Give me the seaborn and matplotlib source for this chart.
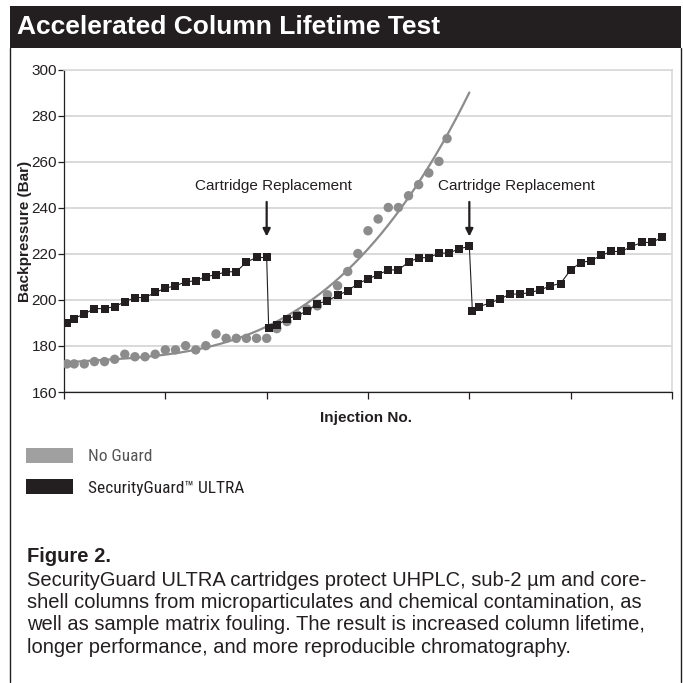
import numpy as np
import pandas as pd
import matplotlib
matplotlib.use("Agg")
import matplotlib.pyplot as plt
from matplotlib.patches import Rectangle, Patch
from matplotlib.lines import Line2D
from matplotlib import font_manager
import seaborn as sns

# ---------------- data ----------------
guard_x = [0.3, 1, 2, 3, 4, 5, 6, 7, 8, 9, 10, 11, 12, 13, 14, 15, 16, 17, 18, 19, 20,
           20.2, 21, 22, 23, 24, 25, 26, 27, 28, 29, 30, 31, 32, 33, 34, 35, 36, 37, 38, 39, 40,
           40.3, 41, 42, 43, 44, 45, 46, 47, 48, 49, 50, 51, 52, 53, 54, 55, 56, 57, 58, 59]
guard_y = [190.1, 191.9, 193.9, 196.2, 196.2, 197.1, 199.1, 201.0, 201.0, 203.2, 205.1,
           206.1, 207.8, 208.3, 210.1, 210.9, 212.2, 212.2, 216.4, 218.4, 218.4,
           187.7, 189.0, 191.7, 193.2, 195.2, 198.3, 199.6, 201.9, 204.0, 207.0, 209.1,
           210.9, 213.0, 213.0, 216.4, 218.3, 218.3, 220.3, 220.3, 222.2, 223.2,
           195.2, 197.1, 198.6, 200.3, 202.5, 202.5, 203.2, 204.3, 206.1, 207.1, 213.0,
           216.2, 217.0, 219.3, 221.0, 221.0, 223.2, 224.9, 224.9, 227.1]

noguard_x = [0.3, 1, 2, 3, 4, 5, 6, 7, 8, 9, 10, 11, 12, 13, 14, 15, 16, 17, 18, 19, 20,
             21, 22, 23, 24, 25, 26, 27, 28, 29, 30, 31, 32, 33, 34, 35, 36, 37, 37.8]
noguard_y = [172.2, 172.2, 172.2, 173.2, 173.2, 174.2, 176.4, 175.3, 175.3, 176.4, 178.3,
             178.3, 180.1, 178.3, 180.1, 185.2, 183.3, 183.3, 183.3, 183.3, 183.3,
             187.5, 190.6, 193.5, 196.0, 197.4, 202.2, 206.1, 212.3, 220.1, 230.0,
             235.1, 240.1, 240.1, 245.2, 250.0, 255.1, 260.1, 270.0]

series_names = ["No Guard", "SecurityGuard\u2122 ULTRA"]
replacement_x = [20, 40]
replacement_label = "Cartridge Replacement"
y_ticks = [160, 180, 200, 220, 240, 260, 280, 300]
x_ticks = [0, 10, 20, 30, 40, 50, 60]

title = "Accelerated Column Lifetime Test"
x_label = "Injection No."
y_label = "Backpressure (Bar)"
caption_head = "Figure 2."
caption_lines = [
    "SecurityGuard ULTRA cartridges protect UHPLC, sub-2 \u00b5m and core-",
    "shell columns from microparticulates and chemical contamination, as",
    "well as sample matrix fouling. The result is increased column lifetime,",
    "longer performance, and more reproducible chromatography.",
]

# ---------------- style ----------------
BLACK = "#231f20"
GREY = "#8c8c8c"
GRID = "#d9d9d9"

sns.set_style("white")
plt.rcParams["font.family"] = ["Liberation Sans", "DejaVu Sans"]

# pick a narrow font for the legend if one is installed
installed = {f.name for f in font_manager.fontManager.ttflist}
narrow_family = None
for cand in ["Liberation Sans Narrow", "DejaVu Sans Condensed", "Roboto Condensed",
             "Open Sans Condensed"]:
    if cand in installed:
        narrow_family = cand
        break
has_dejavu_condensed = any(f.name == "DejaVu Sans" and f.stretch == "condensed"
                           for f in font_manager.fontManager.ttflist)

W = H = 683
fig = plt.figure(figsize=(W / 100, H / 100), dpi=100)


def fx(px):
    return px / W


def fy(py):
    return 1 - py / H


ax = fig.add_axes([fx(64), fy(392), fx(672) - fx(64), fy(69.5) - fy(392)])

guard_df = pd.DataFrame({"x": guard_x, "y": guard_y})
noguard_df = pd.DataFrame({"x": noguard_x, "y": noguard_y})

# polynomial trendline of the No Guard data
coef = np.polyfit(noguard_x, noguard_y, 3)
trend_x = np.linspace(0, 40, 300)
trend_df = pd.DataFrame({"x": trend_x, "y": np.polyval(coef, trend_x)})

sns.scatterplot(data=noguard_df, x="x", y="y", ax=ax, color=GREY, s=46,
                edgecolor="none", linewidth=0, zorder=3, legend=False)
sns.lineplot(data=trend_df, x="x", y="y", ax=ax, color=GREY, lw=1.6,
             zorder=3, legend=False)
sns.lineplot(data=guard_df, x="x", y="y", ax=ax, color=BLACK, lw=0.8,
             marker="s", markersize=5.6, markeredgewidth=0,
             markerfacecolor=BLACK, sort=False, estimator=None, zorder=4,
             legend=False)

ax.set_xlim(0, 60)
ax.set_ylim(160, 300)
ax.set_yticks(y_ticks)
ax.set_xticks(x_ticks)
ax.set_xticklabels([])
ax.yaxis.grid(True, color=GRID, lw=1.4)
ax.set_axisbelow(True)
ax.tick_params(axis="y", direction="out", length=4, width=0.9, color=BLACK,
               labelsize=11, labelcolor=BLACK, pad=1)
ax.tick_params(axis="x", direction="out", length=5, width=0.9, color=BLACK)
ax.tick_params(left=True, bottom=True)
for side in ["left", "bottom"]:
    ax.spines[side].set_color(BLACK)
    ax.spines[side].set_linewidth(0.9)
for side in ["top", "right"]:
    ax.spines[side].set_color(GRID)
    ax.spines[side].set_linewidth(1.2)
ax.set_xlabel("")
ax.set_ylabel("")

# annotations
text_dx = [0.7, 4.6]
for rx, dx in zip(replacement_x, text_dx):
    ax.annotate("", xy=(rx, 227.5), xytext=(rx, 242.5),
                arrowprops=dict(arrowstyle="-|>", color=BLACK, lw=1.6,
                                mutation_scale=11, shrinkA=0, shrinkB=0))
    ax.text(rx + dx, 249.5, replacement_label, ha="center", va="center",
            fontsize=11, color=BLACK)

# axis labels
fig.text(fx(366), fy(418), x_label, ha="center", va="center", fontsize=11,
         fontweight="bold", color=BLACK)
fig.text(fx(25), fy(231), y_label, ha="center", va="center", rotation=90,
         fontsize=11, fontweight="bold", color=BLACK)

# frame and title bar
fig.add_artist(Rectangle((fx(10), fy(48)), fx(681) - fx(10), fy(6) - fy(48),
                         transform=fig.transFigure, facecolor=BLACK,
                         edgecolor="none", zorder=0))
fig.add_artist(Line2D([fx(10), fx(10)], [fy(48), fy(682)], transform=fig.transFigure,
                      color=BLACK, lw=1.0))
fig.add_artist(Line2D([fx(680.5), fx(680.5)], [fy(48), fy(682)], transform=fig.transFigure,
                      color=BLACK, lw=1.0))
fig.text(fx(17), fy(34), title, ha="left", va="baseline", fontsize=19,
         fontweight="bold", color="white")

# legend
if narrow_family is not None:
    leg_prop = {"family": [narrow_family, "Liberation Sans"], "size": 12.5}
elif has_dejavu_condensed:
    leg_prop = {"family": ["DejaVu Sans"], "stretch": "condensed", "size": 11.2}
else:
    leg_prop = {"family": ["Liberation Sans"], "size": 11}
handles = [Patch(facecolor="#a0a0a0", edgecolor="none"),
           Patch(facecolor=BLACK, edgecolor="none")]
leg = fig.legend(handles, series_names, loc="upper left",
                 bbox_to_anchor=(fx(19), fy(441)), frameon=False,
                 handlelength=2.7 * 12.5 / leg_prop["size"],
                 handleheight=0.95 * 12.5 / leg_prop["size"],
                 handletextpad=0.85 * 12.5 / leg_prop["size"],
                 labelspacing=0.85, borderaxespad=0, prop=leg_prop)
leg.get_texts()[0].set_color("#555555")
leg.get_texts()[1].set_color(BLACK)

# caption
fig.text(fx(27), fy(556), caption_head, ha="left", va="center", fontsize=14.5,
         fontweight="bold", color=BLACK)
cap_y = [580, 602.5, 625, 647.5]
for line, yy in zip(caption_lines, cap_y):
    fig.text(fx(27), fy(yy), line, ha="left", va="center", fontsize=14.5, color=BLACK)

fig.savefig("out.png", dpi=100, facecolor="white")
